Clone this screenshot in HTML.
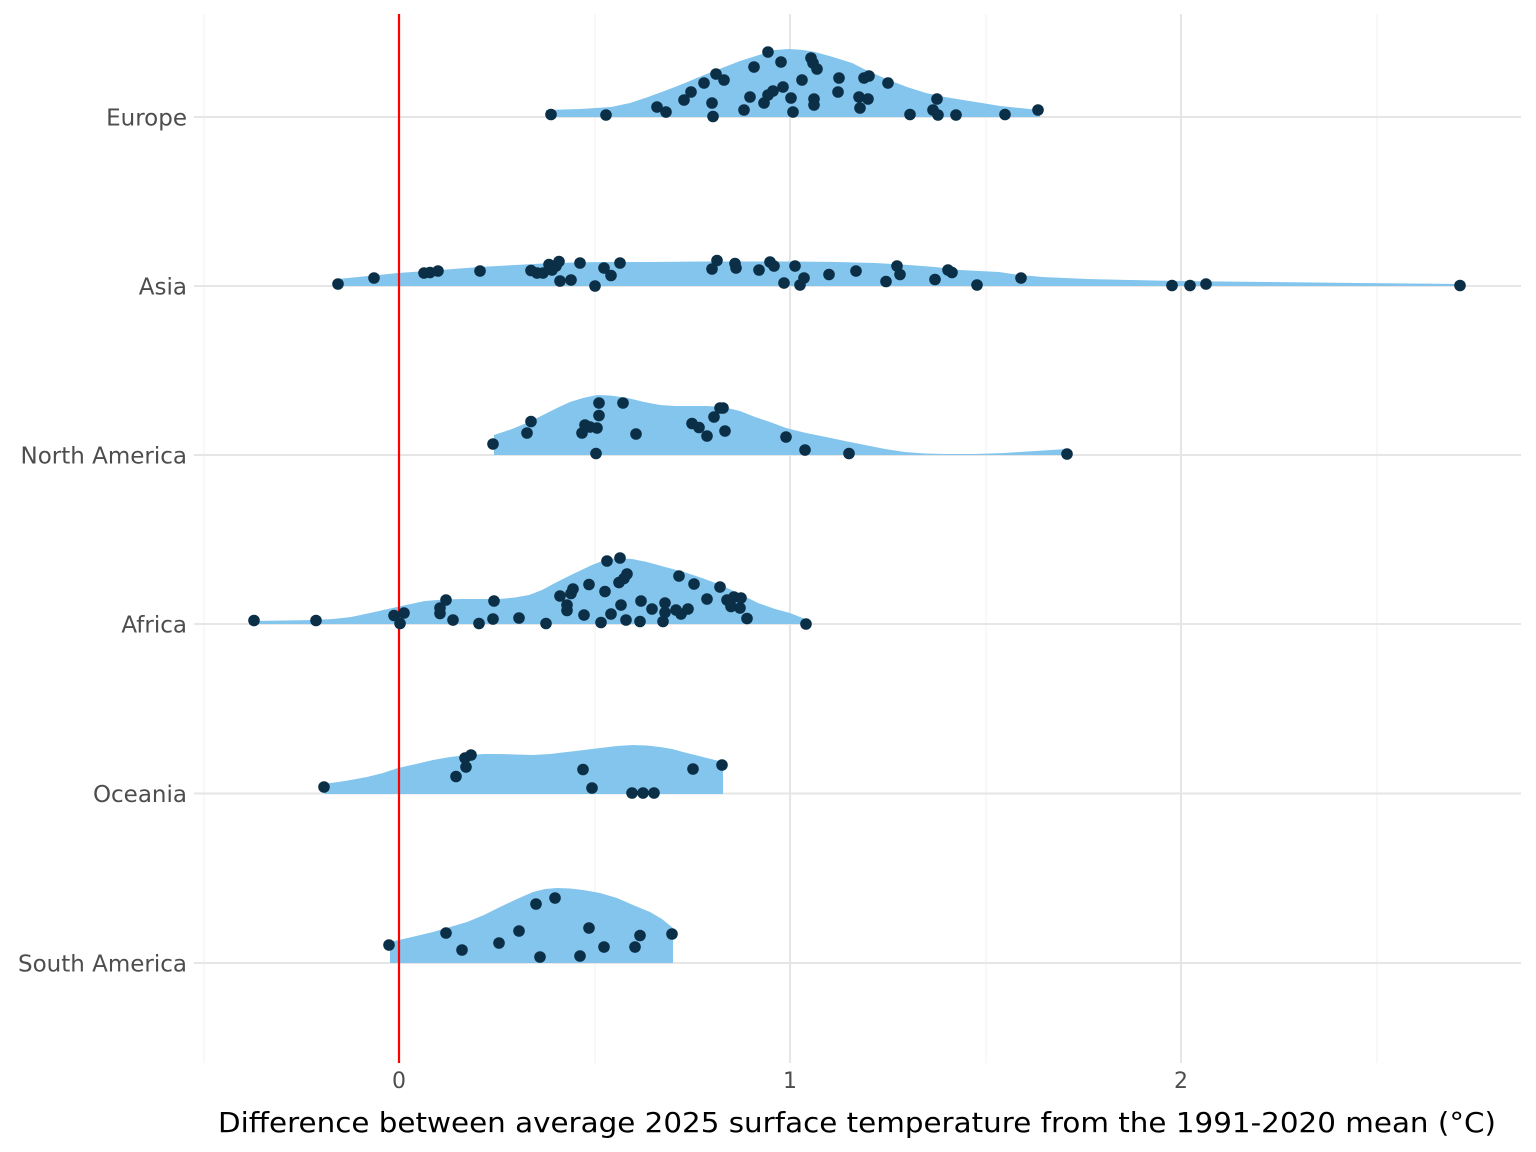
<!DOCTYPE html>
<html>
<head>
<meta charset="utf-8">
<style>
  html,body{margin:0;padding:0;background:#fff;}
  svg{display:block;}
  .yl{font-family:"DejaVu Sans","Liberation Sans",sans-serif;font-size:23px;fill:#4d4d4d;}
  .xl{font-family:"DejaVu Sans","Liberation Sans",sans-serif;font-size:22px;fill:#4d4d4d;}
  .tt{font-family:"DejaVu Sans","Liberation Sans",sans-serif;font-size:28px;fill:#000;}
</style>
</head>
<body>
<svg width="1536" height="1152" viewBox="0 0 1536 1152" xmlns="http://www.w3.org/2000/svg">
  <rect x="0" y="0" width="1536" height="1152" fill="#fff"/>
  <!-- minor vertical grid -->
  <g stroke="#f1f1f1" stroke-width="1.1">
    <line x1="204" y1="14" x2="204" y2="1063"/>
    <line x1="595" y1="14" x2="595" y2="1063"/>
    <line x1="986" y1="14" x2="986" y2="1063"/>
    <line x1="1377" y1="14" x2="1377" y2="1063"/>
  </g>
  <!-- major vertical grid -->
  <g stroke="#e6e6e6" stroke-width="2.1">
    <line x1="399" y1="14" x2="399" y2="1063"/>
    <line x1="790" y1="14" x2="790" y2="1063"/>
    <line x1="1181" y1="14" x2="1181" y2="1063"/>
  </g>
  <!-- horizontal grid -->
  <g stroke="#e6e6e6" stroke-width="2.1">
    <line x1="194" y1="117" x2="1521" y2="117"/>
    <line x1="194" y1="286" x2="1521" y2="286"/>
    <line x1="194" y1="455" x2="1521" y2="455"/>
    <line x1="194" y1="624" x2="1521" y2="624"/>
    <line x1="194" y1="793.5" x2="1521" y2="793.5"/>
    <line x1="194" y1="963" x2="1521" y2="963"/>
  </g>

  <!-- violins -->
  <g fill="#84c5ee">
    <polygon points="546,117 546,110 580,109 611,107 630,103 648,97 667,90 685,83 704,75 722,68 740,61 759,55 775,50 789,49 803,50 815,52 833,57 852,63 870,72 889,80 907,87 926,93 945,97 963,100 982,103 1000,106 1020,108 1039,110 1040,117"/>
    <polygon points="338,286 338,279 368,276 398,273 440,270 479,267 515,265 552,263 600,262 652,262 700,261.5 740,261.5 790,261.5 837,262 875,263 909,265 935,267 960,270 980,271 999,272 1020,275 1043,277 1065,278 1088,279 1130,280 1177,281 1267,282 1356,283 1410,283.5 1464,284 1464,286"/>
    <polygon points="494,455 494,435 512,429 529,422 543,415 557,408 570,402 583,398 597,395 610,395.5 628,398 644,402 660,405 675,406 691,406 707,406 723,407 740,411 755,417 770,422 786,428 806,433 826,437 845,441 865,445 885,449 905,452 925,453.5 944,454 975,454 1004,453 1035,451 1067,449 1070,449 1070,455"/>
    <polygon points="254,624 254,621 284,620.5 314,620 333,619 351,617 370,613 388,609 406,605 425,601 444,599.5 462,599 480,599 499,599 515,597.5 529,595 542,590 555,583 573,574 592,565 605,560 617,558 632,559 647,562 665,567 684,572 702,578 721,585 740,594 758,603 775,609 790,613 800,617 808,620 809,624"/>
    <polygon points="324,794 324,784 345,781 367,777 383,773 398,768 416,764 433,760 450,757 467,755 484,754 500,754 516,754.5 533,755 550,754 567,752 584,750 600,748 617,746 633,745 647,745.5 660,747 672,749 683,752 695,755 707,758 715,760 723,762 723,794"/>
    <polygon points="390,963 390,942 412,937 433,932 450,927 467,922 484,915 500,907 517,899 533,892 545,889 557,888 570,888.5 583,890 600,893 617,898 633,905 650,912 662,919 673,928 673,963"/>
  </g>

  <!-- red reference line -->
  <line x1="399" y1="14" x2="399" y2="1063" stroke="#ff0000" stroke-width="2.2"/>

  <!-- points -->
  <g fill="#0b2f47">
    <!-- Europe -->
    <circle cx="551" cy="114.5" r="5.8"/><circle cx="606" cy="115" r="5.8"/><circle cx="657" cy="107" r="5.8"/><circle cx="666" cy="112" r="5.8"/>
    <circle cx="684" cy="100" r="5.8"/><circle cx="691" cy="92" r="5.8"/><circle cx="704" cy="83" r="5.8"/><circle cx="712" cy="103" r="5.8"/>
    <circle cx="713" cy="116.5" r="5.8"/><circle cx="716" cy="74" r="5.8"/><circle cx="724" cy="80" r="5.8"/><circle cx="744" cy="110" r="5.8"/>
    <circle cx="750" cy="97" r="5.8"/><circle cx="754" cy="67" r="5.8"/><circle cx="764" cy="103" r="5.8"/><circle cx="768" cy="52" r="5.8"/>
    <circle cx="768" cy="95" r="5.8"/><circle cx="773" cy="91" r="5.8"/><circle cx="781" cy="62" r="5.8"/><circle cx="783" cy="87" r="5.8"/>
    <circle cx="791" cy="98" r="5.8"/><circle cx="793" cy="112" r="5.8"/><circle cx="802" cy="80" r="5.8"/><circle cx="811" cy="58" r="5.8"/>
    <circle cx="813" cy="63" r="5.8"/><circle cx="817" cy="69" r="5.8"/><circle cx="814" cy="99" r="5.8"/><circle cx="814" cy="105" r="5.8"/>
    <circle cx="838" cy="92" r="5.8"/><circle cx="839" cy="78" r="5.8"/><circle cx="859" cy="97" r="5.8"/><circle cx="860" cy="108" r="5.8"/>
    <circle cx="864" cy="78" r="5.8"/><circle cx="869" cy="76" r="5.8"/><circle cx="868" cy="99" r="5.8"/><circle cx="888" cy="83" r="5.8"/>
    <circle cx="910" cy="114.5" r="5.8"/><circle cx="933" cy="110" r="5.8"/><circle cx="937" cy="99" r="5.8"/><circle cx="938" cy="115" r="5.8"/>
    <circle cx="956" cy="115" r="5.8"/><circle cx="1005" cy="114.5" r="5.8"/><circle cx="1038" cy="110" r="5.8"/>
    <!-- Asia -->
    <circle cx="338" cy="284" r="5.8"/><circle cx="374" cy="278" r="5.8"/><circle cx="424" cy="273" r="5.8"/><circle cx="430" cy="272.5" r="5.8"/>
    <circle cx="438" cy="271" r="5.8"/><circle cx="480" cy="271" r="5.8"/><circle cx="531" cy="270.5" r="5.8"/><circle cx="537" cy="273" r="5.8"/>
    <circle cx="543" cy="273" r="5.8"/><circle cx="549" cy="264.5" r="5.8"/><circle cx="552" cy="270" r="5.8"/><circle cx="556" cy="266" r="5.8"/>
    <circle cx="559" cy="261.5" r="5.8"/><circle cx="560" cy="281" r="5.8"/><circle cx="571" cy="280" r="5.8"/><circle cx="580" cy="263" r="5.8"/>
    <circle cx="595" cy="286" r="5.8"/><circle cx="604" cy="268" r="5.8"/><circle cx="611" cy="275.5" r="5.8"/><circle cx="620" cy="263" r="5.8"/>
    <circle cx="712" cy="269" r="5.8"/><circle cx="717" cy="260.5" r="5.8"/><circle cx="735" cy="263.5" r="5.8"/><circle cx="736" cy="268" r="5.8"/>
    <circle cx="759" cy="270" r="5.8"/><circle cx="770" cy="262" r="5.8"/><circle cx="774" cy="266" r="5.8"/><circle cx="784" cy="283" r="5.8"/>
    <circle cx="795" cy="266" r="5.8"/><circle cx="800" cy="285" r="5.8"/><circle cx="804" cy="278" r="5.8"/><circle cx="829" cy="274.5" r="5.8"/>
    <circle cx="856" cy="271" r="5.8"/><circle cx="886" cy="281.5" r="5.8"/><circle cx="897" cy="266" r="5.8"/><circle cx="900" cy="274.5" r="5.8"/>
    <circle cx="935" cy="279.5" r="5.8"/><circle cx="948" cy="270" r="5.8"/><circle cx="952" cy="272.5" r="5.8"/><circle cx="977" cy="285" r="5.8"/>
    <circle cx="1021" cy="278" r="5.8"/><circle cx="1172" cy="285.5" r="5.8"/><circle cx="1190" cy="285.5" r="5.8"/><circle cx="1206" cy="284" r="5.8"/>
    <circle cx="1460" cy="285.5" r="5.8"/>
    <!-- North America -->
    <circle cx="493" cy="444" r="5.8"/><circle cx="527" cy="433" r="5.8"/><circle cx="531" cy="421.5" r="5.8"/><circle cx="582" cy="433" r="5.8"/>
    <circle cx="585" cy="425" r="5.8"/><circle cx="590" cy="427" r="5.8"/><circle cx="596" cy="453.5" r="5.8"/><circle cx="597" cy="428" r="5.8"/>
    <circle cx="599" cy="415.5" r="5.8"/><circle cx="599" cy="403" r="5.8"/><circle cx="623" cy="403" r="5.8"/><circle cx="636" cy="434" r="5.8"/>
    <circle cx="692" cy="423.5" r="5.8"/><circle cx="699" cy="427.5" r="5.8"/><circle cx="707" cy="436" r="5.8"/><circle cx="714" cy="417" r="5.8"/>
    <circle cx="720" cy="408" r="5.8"/><circle cx="723" cy="408" r="5.8"/><circle cx="725" cy="431" r="5.8"/><circle cx="786" cy="437" r="5.8"/>
    <circle cx="805" cy="450" r="5.8"/><circle cx="849" cy="453.5" r="5.8"/><circle cx="1067" cy="454" r="5.8"/>
    <!-- Africa -->
    <circle cx="254" cy="620.5" r="5.8"/><circle cx="316" cy="620.5" r="5.8"/><circle cx="394" cy="615.5" r="5.8"/><circle cx="400" cy="623.5" r="5.8"/>
    <circle cx="404" cy="613" r="5.8"/><circle cx="440" cy="613.5" r="5.8"/><circle cx="440" cy="608" r="5.8"/><circle cx="446" cy="600" r="5.8"/>
    <circle cx="453" cy="620" r="5.8"/><circle cx="479" cy="623.5" r="5.8"/><circle cx="493" cy="619" r="5.8"/><circle cx="494" cy="601" r="5.8"/>
    <circle cx="519" cy="618" r="5.8"/><circle cx="546" cy="623.5" r="5.8"/><circle cx="560" cy="596" r="5.8"/><circle cx="567" cy="610.5" r="5.8"/>
    <circle cx="567" cy="605" r="5.8"/><circle cx="571" cy="593.5" r="5.8"/><circle cx="573" cy="589" r="5.8"/><circle cx="584" cy="615" r="5.8"/>
    <circle cx="589" cy="584.5" r="5.8"/><circle cx="601" cy="622.5" r="5.8"/><circle cx="605" cy="591.5" r="5.8"/><circle cx="607" cy="561" r="5.8"/>
    <circle cx="611" cy="614" r="5.8"/><circle cx="620" cy="558" r="5.8"/><circle cx="619" cy="582.5" r="5.8"/><circle cx="621" cy="605" r="5.8"/>
    <circle cx="624" cy="578.5" r="5.8"/><circle cx="627" cy="574" r="5.8"/><circle cx="626" cy="620" r="5.8"/><circle cx="640" cy="621.5" r="5.8"/>
    <circle cx="641" cy="601" r="5.8"/><circle cx="652" cy="609" r="5.8"/><circle cx="663" cy="621.5" r="5.8"/><circle cx="665" cy="603" r="5.8"/>
    <circle cx="665" cy="612.5" r="5.8"/><circle cx="676" cy="610" r="5.8"/><circle cx="679" cy="576" r="5.8"/><circle cx="681" cy="614" r="5.8"/>
    <circle cx="688" cy="609" r="5.8"/><circle cx="694" cy="584" r="5.8"/><circle cx="707" cy="599" r="5.8"/><circle cx="720" cy="587" r="5.8"/>
    <circle cx="727" cy="600" r="5.8"/><circle cx="731" cy="606.5" r="5.8"/><circle cx="734" cy="597" r="5.8"/><circle cx="740" cy="608" r="5.8"/>
    <circle cx="741" cy="598" r="5.8"/><circle cx="747" cy="618.5" r="5.8"/><circle cx="806" cy="624" r="5.8"/>
    <!-- Oceania -->
    <circle cx="324" cy="787" r="5.8"/><circle cx="456" cy="776.5" r="5.8"/><circle cx="466" cy="767" r="5.8"/><circle cx="465" cy="758" r="5.8"/>
    <circle cx="471" cy="755" r="5.8"/><circle cx="583" cy="769.5" r="5.8"/><circle cx="592" cy="788" r="5.8"/><circle cx="632" cy="793" r="5.8"/>
    <circle cx="643" cy="793" r="5.8"/><circle cx="654" cy="793" r="5.8"/><circle cx="693" cy="769" r="5.8"/><circle cx="722" cy="765" r="5.8"/>
    <!-- South America -->
    <circle cx="389" cy="945" r="5.8"/><circle cx="446" cy="933" r="5.8"/><circle cx="462" cy="950" r="5.8"/><circle cx="499" cy="943" r="5.8"/>
    <circle cx="519" cy="931" r="5.8"/><circle cx="536" cy="904" r="5.8"/><circle cx="540" cy="957" r="5.8"/><circle cx="555" cy="898" r="5.8"/>
    <circle cx="580" cy="956" r="5.8"/><circle cx="589" cy="928" r="5.8"/><circle cx="604" cy="947" r="5.8"/><circle cx="635" cy="947" r="5.8"/>
    <circle cx="640" cy="935.5" r="5.8"/><circle cx="672" cy="934" r="5.8"/>
  </g>

  <!-- y axis labels -->
  <g class="yl" text-anchor="end">
    <text x="187" y="125.5">Europe</text>
    <text x="187" y="294.5">Asia</text>
    <text x="187" y="463.5">North America</text>
    <text x="187" y="632.5">Africa</text>
    <text x="187" y="802">Oceania</text>
    <text x="187" y="971.5">South America</text>
  </g>
  <!-- x axis labels -->
  <g class="xl" text-anchor="middle">
    <text x="399" y="1088">0</text>
    <text x="790" y="1088">1</text>
    <text x="1181" y="1088">2</text>
  </g>
  <text class="tt" x="218" y="1132" textLength="1278" lengthAdjust="spacingAndGlyphs">Difference between average 2025 surface temperature from the 1991-2020 mean (°C)</text>
</svg>
</body>
</html>
